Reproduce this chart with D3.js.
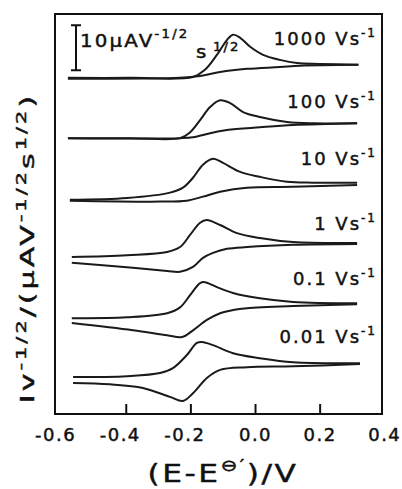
<!DOCTYPE html>
<html>
<head>
<meta charset="UTF-8">
<title>CV at several scan rates</title>
<script src="https://cdn.jsdelivr.net/npm/d3@7"></script>
<style>
  body { margin: 0; background: #fff; }
  text { font-family: "DejaVu Sans", sans-serif; fill: #111; stroke: #111; stroke-width: 0.45px; }
</style>
</head>
<body>
<script>
// scan rates, top to bottom, and the vertical offset of each trace (uA V^-1/2 s^1/2)
var rates   = ["1000", "100", "10", "1", "0.1", "0.01"];
var offsets = [74.7, 61.3, 47.6, 34.9, 21.3, 8.2];

// [E (V), I v^-1/2 relative to the offset]
var fwd1000 = [[-0.579,0],[-0.387,0],[-0.192,0.2],[-0.155,1.8],[-0.118,5.1],[-0.087,8.4],[-0.068,9.6],[-0.046,8.9],[-0.015,6.9],[0.025,5.1],[0.077,4.0],[0.130,3.3],[0.201,3.1],[0.320,2.9]];
var rev1000 = [[0.320,2.9],[0.139,2.7],[0.077,2.4],[-0.025,2.0],[-0.108,1.3],[-0.170,0.4],[-0.232,0],[-0.579,-0.2]];

var fwd100 = [[-0.579,0],[-0.387,0],[-0.232,0],[-0.201,1.3],[-0.170,4.0],[-0.139,6.9],[-0.108,8.4],[-0.077,7.8],[-0.037,5.8],[0.015,4.7],[0.099,3.6],[0.180,3.3],[0.316,3.3]];
var rev100 = [[0.316,3.3],[0.118,2.9],[0.015,2.4],[-0.087,1.8],[-0.139,1.1],[-0.192,0.2],[-0.232,0],[-0.579,0]];

var fwd10 = [[-0.573,0],[-0.396,0.4],[-0.263,1.6],[-0.223,2.7],[-0.192,4.9],[-0.161,7.8],[-0.130,9.1],[-0.099,8.2],[-0.046,6.2],[0.015,5.1],[0.099,4.0],[0.180,3.8],[0.316,3.8]];
var rev10 = [[0.316,3.3],[0.118,2.9],[-0.025,2.7],[-0.108,1.8],[-0.161,0.7],[-0.211,-0.2],[-0.294,-0.4],[-0.573,-0.2]];

var fwd1 = [[-0.567,0],[-0.396,0.4],[-0.272,1.1],[-0.232,2.2],[-0.201,4.9],[-0.170,7.6],[-0.150,8.2],[-0.108,7.1],[-0.056,5.3],[0.015,4.2],[0.118,3.3],[0.316,3.1]];
var rev1 = [[0.316,2.9],[0.118,2.7],[-0.025,2.2],[-0.087,1.8],[-0.130,0.9],[-0.161,-0.2],[-0.192,-2.2],[-0.232,-3.3],[-0.272,-3.1],[-0.378,-2.4],[-0.567,-1.3]];

var fwd01 = [[-0.567,0],[-0.396,0.2],[-0.272,1.1],[-0.232,2.4],[-0.201,5.1],[-0.170,7.8],[-0.155,8.0],[-0.118,6.9],[-0.068,5.6],[0.015,4.4],[0.118,3.6],[0.316,3.3]];
var rev01 = [[0.316,3.1],[0.118,2.7],[-0.025,2.2],[-0.068,1.8],[-0.108,1.1],[-0.149,-0.4],[-0.192,-2.7],[-0.226,-4.2],[-0.272,-3.8],[-0.378,-2.7],[-0.567,-1.1]];

var fwd001 = [[-0.563,0],[-0.396,0.2],[-0.294,0.9],[-0.254,2.0],[-0.211,4.9],[-0.180,7.6],[-0.164,7.8],[-0.130,7.1],[-0.068,5.3],[0.015,4.2],[0.118,3.3],[0.325,3.1]];
var rev001 = [[0.325,2.9],[0.118,2.4],[-0.025,2.2],[-0.108,1.6],[-0.149,-0.2],[-0.192,-3.6],[-0.223,-5.3],[-0.263,-4.4],[-0.347,-2.4],[-0.449,-1.6],[-0.563,-1.3]];

var xTicks = [-0.6, -0.4, -0.2, 0.0, 0.2, 0.4];

var traces = [[fwd1000, rev1000], [fwd100, rev100], [fwd10, rev10], [fwd1, rev1], [fwd01, rev01], [fwd001, rev001]];

// layout
var W = 402, H = 489;
var box = {left: 55, right: 382, top: 14, bottom: 414};
var labelY = [45, 108, 165, 230, 285, 343];

var svg = d3.select("body").append("svg")
  .attr("width", W).attr("height", H);

var x = d3.scaleLinear().domain([-0.619, 0.393]).range([box.left, box.right]);
var y = d3.scaleLinear().domain([0, 400 / 4.5]).range([box.bottom, box.top]);

// traces
traces.forEach(function(t, k) {
  var off = offsets[k];
  var line = d3.line()
    .x(function(d){ return x(d[0]); })
    .y(function(d){ return y(d[1] + off); })
    .curve(d3.curveCatmullRom.alpha(0.5));
  t.forEach(function(branch) {
    svg.append("path")
      .attr("d", line(branch))
      .attr("fill", "none")
      .attr("stroke", "#1a1a1a")
      .attr("stroke-width", 2);
  });
});

// frame
svg.append("rect")
  .attr("x", box.left).attr("y", box.top)
  .attr("width", box.right - box.left).attr("height", box.bottom - box.top)
  .attr("fill", "none").attr("stroke", "#111").attr("stroke-width", 2);

// x axis, ticks pointing in
var gx = svg.append("g")
  .attr("transform", "translate(0," + box.bottom + ")")
  .call(d3.axisBottom(x).tickValues(xTicks).tickSize(-10).tickPadding(14)
    .tickFormat(function(d){ return d.toFixed(1); }));
gx.select(".domain").remove();
gx.selectAll(".tick line").attr("stroke", "#111").attr("stroke-width", 2)
  .filter(function(d){ return d < -0.5 || d > 0.3; }).remove();
gx.selectAll(".tick text")
  .attr("font-family", "DejaVu Sans").attr("font-size", 18)
  .attr("letter-spacing", 1.5).attr("fill", "#111")
  .attr("dx", function(d){ return d < 0 ? -6 : 0; });

// rate labels
rates.forEach(function(r, k) {
  var t = svg.append("text")
    .attr("x", 377).attr("y", labelY[k])
    .attr("text-anchor", "end")
    .attr("font-size", 18).attr("letter-spacing", 2);
  t.append("tspan").text(r + " Vs");
  t.append("tspan").attr("font-size", 12).attr("dy", -8).text("-1");
});

// scale bar, 10 units
var barBottom = 76.4;
var bx = 76;
svg.append("path")
  .attr("d", "M" + (bx - 5) + "," + y(barBottom + 10) + "H" + (bx + 5) +
             "M" + bx + "," + y(barBottom + 10) + "V" + y(barBottom) +
             "M" + (bx - 5) + "," + y(barBottom) + "H" + (bx + 5))
  .attr("stroke", "#111").attr("stroke-width", 2).attr("fill", "none");

var sl = svg.append("text")
  .attr("transform", "translate(80,47) scale(1.1,1)")
  .attr("font-size", 18).attr("letter-spacing", 2);
sl.append("tspan").text("10\u00b5AV");
sl.append("tspan").attr("font-size", 12).attr("dy", -9).text("-1/2");
sl.append("tspan").attr("dy", 20).attr("dx", 6).text("s");
sl.append("tspan").attr("font-size", 12).attr("dy", -7).attr("dx", 4).text("1/2");

// y label
var yl = svg.append("text")
  .attr("transform", "translate(34,248) rotate(-90) scale(1.5,1)")
  .attr("text-anchor", "middle")
  .attr("font-size", 20).attr("letter-spacing", 2);
yl.append("tspan").text("Iv");
yl.append("tspan").attr("font-size", 14).attr("dy", -8).text("-1/2");
yl.append("tspan").attr("dy", 8).text("/(\u00b5AV");
yl.append("tspan").attr("font-size", 14).attr("dy", -8).text("-1/2");
yl.append("tspan").attr("dy", 8).text("s");
yl.append("tspan").attr("font-size", 14).attr("dy", -8).text("1/2");
yl.append("tspan").attr("dy", 8).text(")");

// x label
var xl = svg.append("text")
  .attr("transform", "translate(223,482) scale(1.25,1)")
  .attr("text-anchor", "middle")
  .attr("font-size", 25).attr("letter-spacing", 2);
xl.append("tspan").text("(E-E");
xl.append("tspan").attr("font-size", 16).attr("dy", -11).text("\u2296\u2032");
xl.append("tspan").attr("dy", 11).text(")/V");
</script>
</body>
</html>
